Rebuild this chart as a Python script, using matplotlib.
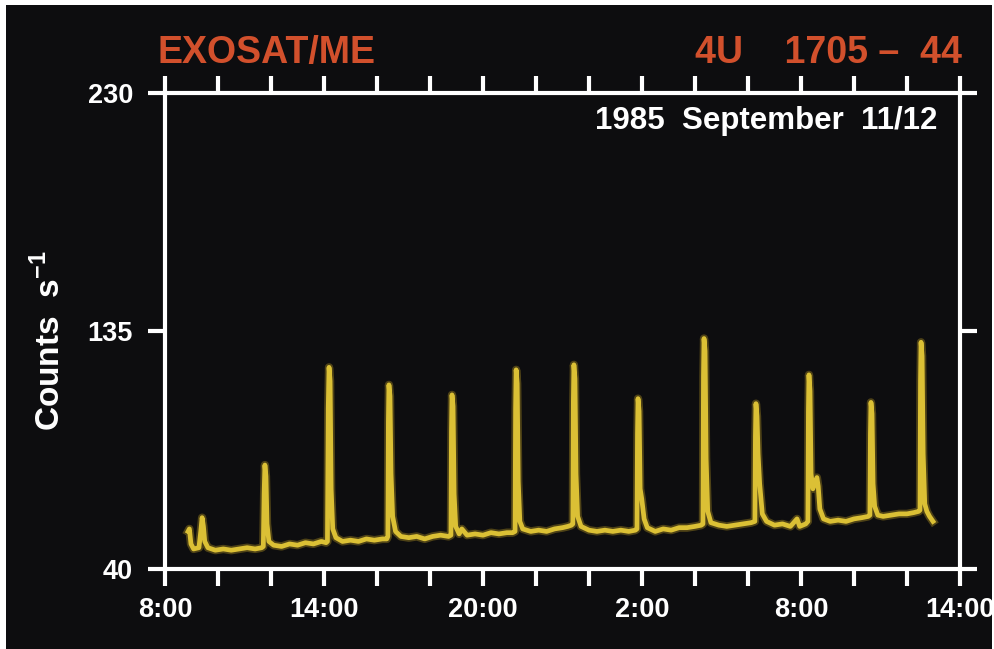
import matplotlib
matplotlib.use("Agg")
import matplotlib.pyplot as plt
from matplotlib.patches import Rectangle

plt.rcParams['font.family'] = ['Liberation Sans', 'DejaVu Sans']
plt.rcParams['font.weight'] = 'bold'
plt.rcParams['mathtext.fontset'] = 'custom'
plt.rcParams['mathtext.rm'] = 'Liberation Sans:bold'
plt.rcParams['mathtext.bf'] = 'Liberation Sans:bold'

# light curve, hours since 8:00 on Sept 11 vs count rate
hours = [
    0.87, 0.92, 0.98, 1.08, 1.28, 1.35, 1.40, 1.45, 1.50, 1.62, 1.9, 2.2, 2.5, 2.8, 3.1, 3.4, 3.65,
    3.71, 3.74, 3.77, 3.81, 3.85, 3.92, 4.1, 4.4, 4.7, 5.0, 5.3, 5.6, 5.9, 6.08,
    6.13, 6.16, 6.19, 6.23, 6.27, 6.33, 6.45, 6.7, 7.0, 7.3, 7.6, 7.9, 8.2, 8.37,
    8.41, 8.43, 8.45, 8.49, 8.53, 8.59, 8.7, 8.9, 9.2, 9.5, 9.8, 10.1, 10.4, 10.7,
    10.79, 10.81, 10.83, 10.87, 10.91, 10.97, 11.1, 11.2, 11.4, 11.7, 12.0, 12.3, 12.6, 12.9, 13.12,
    13.21, 13.23, 13.25, 13.29, 13.33, 13.39, 13.5, 13.8, 14.1, 14.4, 14.7, 15.0, 15.2, 15.34,
    15.39, 15.41, 15.43, 15.47, 15.51, 15.57, 15.7, 16.0, 16.3, 16.6, 16.9, 17.2, 17.5, 17.75,
    17.81, 17.83, 17.85, 17.89, 17.93, 17.99, 18.08, 18.2, 18.5, 18.8, 19.1, 19.4, 19.7, 20.0, 20.24,
    20.30, 20.32, 20.34, 20.38, 20.42, 20.48, 20.6, 20.9, 21.2, 21.5, 21.8, 22.12,
    22.26, 22.28, 22.30, 22.34, 22.38, 22.44, 22.54, 22.7, 23.0, 23.3, 23.6, 23.85, 23.95, 24.18,
    24.26, 24.28, 24.30, 24.34, 24.38, 24.45, 24.55, 24.60, 24.65, 24.71, 24.85, 25.1, 25.4, 25.7, 26.0, 26.3, 26.54,
    26.60, 26.62, 26.64, 26.68, 26.72, 26.78, 26.9, 27.1, 27.4, 27.7, 28.0, 28.25, 28.44,
    28.49, 28.51, 28.53, 28.57, 28.61, 28.67, 28.75, 28.85, 28.98,
]
rate = [
    55, 56, 50, 48, 48.5, 55, 60.5, 57, 51, 48.5, 47.5, 48, 47.5, 48, 48.5, 48, 48.5,
    49, 70, 81.5, 77, 58, 51, 49.5, 49, 50, 49.5, 50.5, 50, 51, 50.5,
    51, 104, 120.5, 115, 72, 56, 52.5, 51, 51.5, 51, 52, 51.5, 52, 52,
    53, 99, 113.5, 109, 78, 61, 55, 53, 52.5, 53, 52, 53, 53.5, 53,
    53.5, 95, 109.5, 105, 70, 57, 54, 56, 53.5, 54, 53.5, 54.5, 54, 54.5, 54.5,
    55, 104, 119.5, 114, 75, 59, 56, 55, 55.5, 55, 56, 56.5, 57, 57.5,
    58, 107, 121.5, 116, 78, 61, 57, 55.5, 55, 55.5, 55, 55.5, 55, 55.5,
    56, 94, 108, 103, 72, 68, 60, 56.5, 55, 56, 55.5, 56.5, 56.5, 57, 57.5,
    58, 117, 132, 127, 84, 63, 58.5, 57.5, 57, 57.5, 58, 58.5,
    59, 93, 106, 101, 86, 74, 62, 59, 57.5, 58, 57, 60, 57, 58,
    59, 103, 117.5, 111, 78, 72, 75, 76.5, 73, 64, 60, 59, 59.5, 59, 60, 60.5, 61,
    61.5, 94, 106.5, 102, 74, 65, 61.5, 61, 61.5, 62, 62, 62.5, 63,
    63.5, 115, 130.5, 125, 86, 66, 63, 61, 59,
]

xtick_pos = list(range(0, 31, 2))
xtick_lab = ['8:00', '', '', '14:00', '', '', '20:00', '', '', '2:00', '', '',
             '8:00', '', '', '14:00']
ytick_pos = [40, 135, 230]

bg = '#0d0d0f'
fig = plt.figure(figsize=(9.94, 6.49), dpi=100, facecolor=bg)
ax = fig.add_axes([165 / 994, 1 - 569 / 649, 795 / 994, 476 / 649])
ax.set_facecolor(bg)

# soft glow under the trace
ax.plot(hours, rate, color='#c8a624', lw=6, alpha=0.35, solid_joinstyle='round')
ax.plot(hours, rate, color='#dbc035', lw=3.4, solid_joinstyle='round')

ax.set_xlim(0, 30)
ax.set_ylim(40, 230)
ax.set_xticks(xtick_pos)
ax.set_xticklabels(xtick_lab)
ax.set_yticks(ytick_pos)
ax.set_yticklabels([str(v) for v in ytick_pos])

for s in ax.spines.values():
    s.set_color('white')
    s.set_linewidth(3)
ax.tick_params(axis='both', direction='out', length=12, width=3, color='white',
               labelcolor='white', labelsize=19.5, top=True, right=True)
ax.tick_params(axis='x', pad=8)
ax.tick_params(axis='y', pad=11)
for lab in ax.get_xticklabels() + ax.get_yticklabels():
    lab.set_fontweight('bold')

ax.text(0.972, 0.972, '1985  September  11/12', transform=ax.transAxes,
        ha='right', va='top', color='white', fontsize=22.5, fontweight='bold')

fig.text(50 / 994, 1 - 341 / 649, r'Counts  s$^{-1}$', rotation=90, ha='center',
         va='center', color='white', fontsize=24, fontweight='bold')

fig.text(157 / 994, 1 - 63 / 649, 'EXOSAT/ME', ha='left', va='baseline',
         color='#d2502c', fontsize=27, fontweight='bold')
fig.text(962 / 994, 1 - 63 / 649, '4U    1705 \u2013  44', ha='right', va='baseline',
         color='#d2502c', fontsize=27, fontweight='bold')

# white paper edge along top, left and right
fig.patches.append(Rectangle((0, 0), 6 / 994, 1, transform=fig.transFigure,
                             facecolor='white', edgecolor='none'))
fig.patches.append(Rectangle((0, 1 - 5 / 649), 1, 5 / 649, transform=fig.transFigure,
                             facecolor='white', edgecolor='none'))
fig.patches.append(Rectangle((1 - 2 / 994, 0), 2 / 994, 1, transform=fig.transFigure,
                             facecolor='white', edgecolor='none'))

fig.savefig('out.png', dpi=100, facecolor=bg)
